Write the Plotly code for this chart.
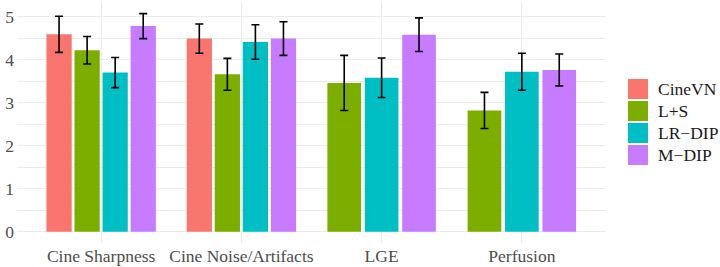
import plotly.graph_objects as go

categories = ["Cine Sharpness", "Cine Noise/Artifacts", "LGE", "Perfusion"]
series = ["CineVN", "L+S", "LR\u2212DIP", "M\u2212DIP"]
colors = ["#F8766D", "#7CAE00", "#00BFC4", "#C77CFF"]

# None = method not evaluated for that category
cinevn_mean = [4.59, 4.49, None, None]
cinevn_err = [0.42, 0.34, None, None]
ls_mean = [4.22, 3.66, 3.46, 2.82]
ls_err = [0.32, 0.37, 0.64, 0.42]
lrdip_mean = [3.70, 4.41, 3.58, 3.72]
lrdip_err = [0.35, 0.40, 0.46, 0.43]
mdip_mean = [4.78, 4.49, 4.58, 3.76]
mdip_err = [0.29, 0.39, 0.39, 0.37]

means = [cinevn_mean, ls_mean, lrdip_mean, mdip_mean]
errs = [cinevn_err, ls_err, lrdip_err, mdip_err]

W, H = 720, 267
L, R, T, B = 17, 114, 2, 24
FONT = "Liberation Serif, Times New Roman, DejaVu Serif, serif"

# dodge2-like placement: total width 0.8, padding 0.1
GROUP_W = 0.8
PAD = 0.1
positions = {}
for c in range(len(categories)):
    present = [s for s in range(len(series)) if means[s][c] is not None]
    n = len(present)
    slot = GROUP_W / n
    for j, s in enumerate(present):
        positions[(s, c)] = (c - GROUP_W / 2 + slot * (j + 0.5), slot * (1 - PAD))

fig = go.Figure()
for s in range(len(series)):
    xs, ys, ws, es = [], [], [], []
    for c in range(len(categories)):
        if means[s][c] is None:
            continue
        x, w = positions[(s, c)]
        xs.append(x); ws.append(w); ys.append(means[s][c]); es.append(errs[s][c])
    fig.add_trace(go.Bar(
        x=xs, y=ys, width=ws, name=series[s],
        marker=dict(color=colors[s], line=dict(width=0)),
        error_y=dict(type="data", array=es, color="black", thickness=1.6, width=4),
        showlegend=False,
    ))

pw = W - L - R
ph = H - T - B
def px_x(p):
    return (p - L) / pw
def px_y(p):
    return 1 - (p - T) / ph

shapes = []
annotations = []
for i, s in enumerate(series):
    top = 79 + 22 * i
    shapes.append(dict(type="rect", xref="paper", yref="paper",
                       x0=px_x(628), x1=px_x(648), y0=px_y(top + 20), y1=px_y(top),
                       fillcolor=colors[i], line=dict(width=0), layer="above"))
    annotations.append(dict(xref="paper", yref="paper", x=px_x(656), y=px_y(top + 10),
                            text=s, showarrow=False, xanchor="left", yanchor="middle",
                            font=dict(family=FONT, size=17.5, color="#1A1A1A")))

fig.update_layout(
    width=W, height=H,
    margin=dict(l=L, r=R, t=T, b=B, autoexpand=False),
    paper_bgcolor="white", plot_bgcolor="white",
    barmode="overlay",
    shapes=shapes, annotations=annotations,
    font=dict(family=FONT, size=17.5, color="#4D4D4D"),
    xaxis=dict(range=[-0.6, 3.6], tickmode="array", tickvals=list(range(len(categories))),
               ticktext=categories, showgrid=True, gridcolor="#EBEBEB", gridwidth=1.3,
               zeroline=False, showline=False, ticks="", ticklabelstandoff=0, automargin=False,
               tickfont=dict(family=FONT, size=17.5, color="#4D4D4D")),
    yaxis=dict(range=[-0.26, 5.34], tickmode="array", tickvals=[0, 1, 2, 3, 4, 5],
               showgrid=True, gridcolor="#EBEBEB", gridwidth=1.3,
               minor=dict(tickvals=[0.5, 1.5, 2.5, 3.5, 4.5], showgrid=True,
                          gridcolor="#EBEBEB", gridwidth=0.7),
               zeroline=False, showline=False, ticks="", ticklabelstandoff=2, automargin=False,
               tickfont=dict(family=FONT, size=17.5, color="#4D4D4D")),
)

fig.write_html("out.html", config={"displayModeBar": False},
               post_script="document.body.style.margin='0';document.body.style.padding='0';")
